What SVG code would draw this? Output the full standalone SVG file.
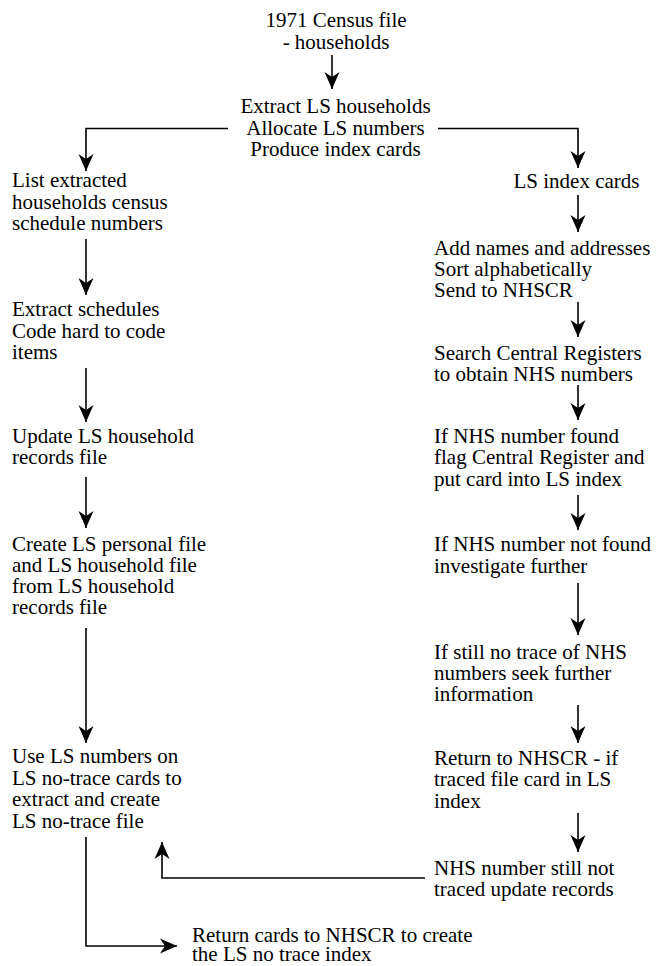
<svg xmlns="http://www.w3.org/2000/svg" width="656" height="966" viewBox="0 0 656 966">
<defs>
<style>
text{font-family:"Liberation Serif","Times New Roman",serif;font-size:21px;fill:#000}
.c{text-anchor:middle}
.ln{fill:none;stroke:#000;stroke-width:1.6}
</style>
<marker id="ah" viewBox="-18 -8 19 16" refX="0" refY="0" markerWidth="19" markerHeight="16" markerUnits="userSpaceOnUse" orient="auto">
<path d="M0,0 L-17,-7.5 L-12,0 L-17,7.5 Z" fill="#000"/>
</marker>
</defs>
<rect width="656" height="966" fill="#fff"/>
<g id="n1"><text class="c" x="336" y="27">1971 Census file</text><text class="c" x="336" y="49">- households</text></g>
<g id="n2"><text class="c" x="335.5" y="113">Extract LS households</text><text class="c" x="335.5" y="135">Allocate LS numbers</text><text class="c" x="335.5" y="156">Produce index cards</text></g>
<g id="n3"><text x="12" y="187">List extracted</text><text x="12" y="208.5">households census</text><text x="12" y="230">schedule numbers</text></g>
<g id="n4"><text x="12" y="316">Extract schedules</text><text x="12" y="337.5">Code hard to code</text><text x="12" y="359">items</text></g>
<g id="n5"><text x="12" y="443">Update LS household</text><text x="12" y="464">records file</text></g>
<g id="n6"><text x="12" y="551">Create LS personal file</text><text x="12" y="572">and LS household file</text><text x="12" y="593">from LS household</text><text x="12" y="614">records file</text></g>
<g id="n7"><text x="12" y="763">Use LS numbers on</text><text x="12" y="785">LS no-trace cards to</text><text x="12" y="806">extract and create</text><text x="12" y="828">LS no-trace file</text></g>
<g id="n8"><text x="192" y="942">Return cards to NHSCR to create</text><text x="192" y="961">the LS no trace index</text></g>
<g id="r1"><text class="c" x="576.5" y="188">LS index cards</text></g>
<g id="r2"><text x="434" y="255">Add names and addresses</text><text x="434" y="276">Sort alphabetically</text><text x="434" y="297">Send to NHSCR</text></g>
<g id="r3"><text x="434" y="360">Search Central Registers</text><text x="434" y="381">to obtain NHS numbers</text></g>
<g id="r4"><text x="434" y="443">If NHS number found</text><text x="434" y="464">flag Central Register and</text><text x="434" y="486">put card into LS index</text></g>
<g id="r5"><text x="434" y="551">If NHS number not found</text><text x="434" y="573">investigate further</text></g>
<g id="r6"><text x="434" y="659">If still no trace of NHS</text><text x="434" y="680">numbers seek further</text><text x="434" y="701">information</text></g>
<g id="r7"><text x="434" y="765">Return to NHSCR - if</text><text x="434" y="786">traced file card in LS</text><text x="434" y="808">index</text></g>
<g id="r8"><text x="434" y="875">NHS number still not</text><text x="434" y="896">traced update records</text></g>
<g id="connectors">
<path class="ln" d="M332,55 V89" marker-end="url(#ah)"/>
<path class="ln" d="M228,128.5 H86 V171" marker-end="url(#ah)"/>
<path class="ln" d="M438,128.5 H578 V168" marker-end="url(#ah)"/>
<path class="ln" d="M86,239 V295" marker-end="url(#ah)"/>
<path class="ln" d="M86,368 V422" marker-end="url(#ah)"/>
<path class="ln" d="M86,477 V528" marker-end="url(#ah)"/>
<path class="ln" d="M86,628 V743" marker-end="url(#ah)"/>
<path class="ln" d="M86,837 V946 H177" marker-end="url(#ah)"/>
<path class="ln" d="M578,195 V232" marker-end="url(#ah)"/>
<path class="ln" d="M578,302 V337" marker-end="url(#ah)"/>
<path class="ln" d="M578,385 V420" marker-end="url(#ah)"/>
<path class="ln" d="M578,495 V530" marker-end="url(#ah)"/>
<path class="ln" d="M578,583 V635" marker-end="url(#ah)"/>
<path class="ln" d="M578,705 V743" marker-end="url(#ah)"/>
<path class="ln" d="M578,813 V852" marker-end="url(#ah)"/>
<path class="ln" d="M425,878 H162 V842" marker-end="url(#ah)"/>
</g>
</svg>
